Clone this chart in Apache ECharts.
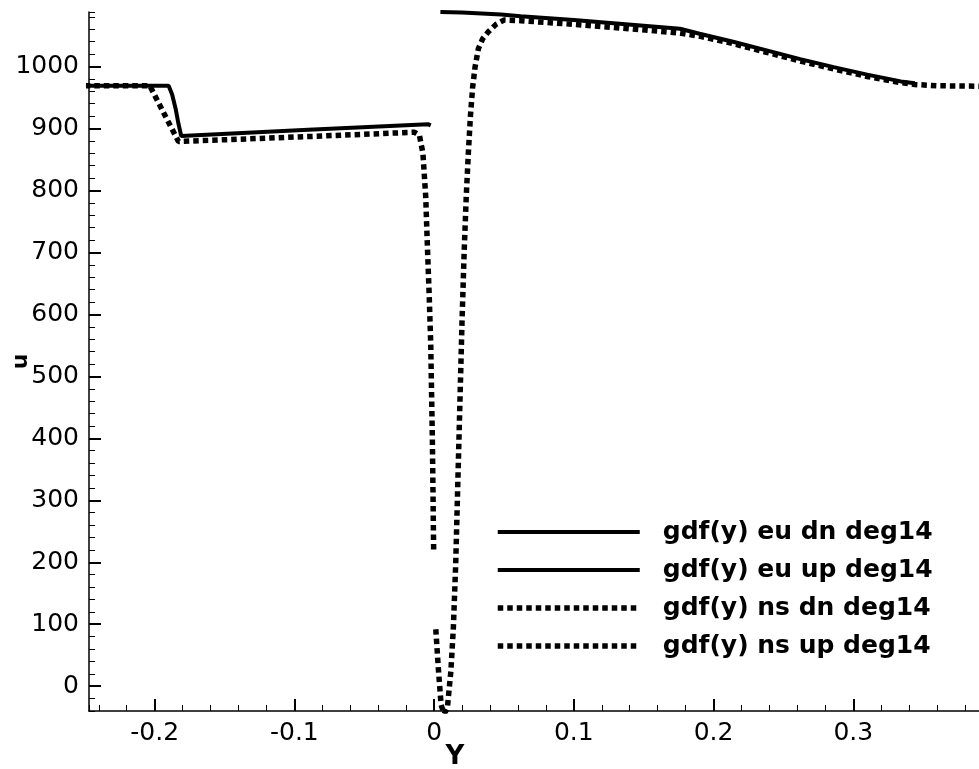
<!DOCTYPE html>
<html>
<head>
<meta charset="utf-8">
<script src="https://cdn.jsdelivr.net/npm/echarts@6/dist/echarts.min.js"></script>
<style>
html,body{margin:0;padding:0;background:#fff;}
#chart{width:979px;height:769px;}
</style>
</head>
<body>
<div id="chart"></div>
<script>
// ---- data ----
const seriesNames = ['gdf(y) eu dn deg14', 'gdf(y) eu up deg14', 'gdf(y) ns dn deg14', 'gdf(y) ns up deg14'];

const euDnY = [-0.25, -0.19, -0.1875, -0.185, -0.183, -0.181, -0.09, -0.0045, -0.0024];
const euDnU = [969, 969, 955, 932, 908, 888, 898, 907, 905];

const euUpY = [0.0045, 0.02, 0.048, 0.062, 0.1, 0.15, 0.176, 0.19, 0.214, 0.238, 0.262, 0.286, 0.31, 0.334, 0.344];
const euUpU = [1088, 1087, 1084, 1081, 1075, 1066, 1061, 1053, 1040, 1026, 1012, 999, 987, 976, 973];

const nsDnY = [-0.25, -0.2035, -0.183, -0.09, -0.014, -0.0105, -0.008, -0.006, -0.0048, -0.0035, -0.0024, -0.0012, -0.0003];
const nsDnU = [969, 969, 879, 887, 894, 889, 860, 790, 710, 630, 551, 392, 215];

const nsUpY = [0.0012, 0.003, 0.005, 0.0072, 0.0095, 0.012, 0.0138, 0.0155, 0.017, 0.0185, 0.02, 0.0215, 0.023, 0.0245, 0.026, 0.0276, 0.0293, 0.0317, 0.0348, 0.0388, 0.0443, 0.05, 0.062, 0.1, 0.14, 0.176, 0.19, 0.214, 0.238, 0.262, 0.286, 0.31, 0.334, 0.344, 0.36, 0.40];
const nsUpU = [92, 30, -30, -45, -35, 24, 95, 200, 330, 460, 590, 700, 790, 860, 920, 967, 999, 1029, 1045, 1056, 1068, 1075, 1074, 1068, 1061, 1054, 1049, 1037, 1023, 1009, 996, 984, 974, 971, 969, 968];

const xRange = [-0.247, 0.39];
const uRange = [-40, 1088];

// ---- chart ----
const FONT = 'DejaVu Sans';
function zip(a, b) { return a.map((v, i) => [v, b[i]]); }

const solidStyle = { color: '#000', width: 4, type: 'solid' };
const dotStyle = { color: '#000', width: 5.5, type: [5.5, 4], cap: 'butt' };
const hiddenSymbol = { color: 'rgba(0,0,0,0)', borderWidth: 0, opacity: 0 };

function lineSeries(name, xs, ys, style) {
  return {
    name: name, type: 'line', data: zip(xs, ys),
    xAxisIndex: 0, yAxisIndex: 0,
    symbol: 'none', showSymbol: false, smooth: false, clip: true,
    lineStyle: style, itemStyle: { color: '#000' },
    emphasis: { disabled: true }
  };
}

const chart = echarts.init(document.getElementById('chart'), null, { renderer: 'canvas' });
chart.setOption({
  animation: false,
  backgroundColor: '#fff',
  grid: { left: 89, right: 0, top: 12, bottom: 58, containLabel: false, outerBoundsMode: 'none' },
  legend: {
    orient: 'vertical', left: 495, top: 518, padding: 0,
    itemWidth: 142, itemHeight: 10, itemGap: 10,
    selectedMode: false,
    textStyle: { fontFamily: FONT, fontWeight: 'bold', fontSize: 25, color: '#000', lineHeight: 28, padding: [0, 0, 0, 18] },
    data: [
      { name: seriesNames[0], lineStyle: solidStyle, itemStyle: hiddenSymbol },
      { name: seriesNames[1], lineStyle: solidStyle, itemStyle: hiddenSymbol },
      { name: seriesNames[2], lineStyle: dotStyle, itemStyle: hiddenSymbol },
      { name: seriesNames[3], lineStyle: dotStyle, itemStyle: hiddenSymbol }
    ]
  },
  xAxis: [
    {
      type: 'value', position: 'bottom', min: xRange[0], max: xRange[1], splitNumber: 6,
      name: 'Y', nameLocation: 'middle', nameGap: 33, nameMoveOverlap: false,
      nameTextStyle: { fontFamily: FONT, fontWeight: 'bold', fontSize: 26, color: '#000', padding: [0, 158, 0, 0] },
      axisLine: { show: true, onZero: false, lineStyle: { color: '#000', width: 1.5 } },
      axisTick: { show: true, inside: true, length: 12, lineStyle: { color: '#000', width: 2 } },
      axisLabel: { show: true, margin: 10, showMinLabel: false, showMaxLabel: false,
        fontFamily: FONT, fontSize: 25, color: '#000',
        formatter: v => String(Math.round(v * 10) / 10) },
      splitLine: { show: false }
    },
    {
      type: 'value', position: 'bottom', min: xRange[0], max: xRange[1], splitNumber: 32,
      axisLine: { show: false, onZero: false },
      axisTick: { show: true, inside: true, length: 6, lineStyle: { color: '#000', width: 1 } },
      axisLabel: { show: false },
      splitLine: { show: false }
    }
  ],
  yAxis: [
    {
      type: 'value', position: 'left', min: uRange[0], max: uRange[1], splitNumber: 11,
      name: 'u', nameLocation: 'middle', nameGap: 57, nameMoveOverlap: false,
      nameTextStyle: { fontFamily: FONT, fontWeight: 'bold', fontSize: 22, color: '#000' },
      axisLine: { show: true, onZero: false, lineStyle: { color: '#000', width: 1.5 } },
      axisTick: { show: true, inside: true, length: 12, lineStyle: { color: '#000', width: 2 } },
      axisLabel: { show: true, margin: 10, showMinLabel: false, showMaxLabel: false,
        fontFamily: FONT, fontSize: 25, color: '#000',
        formatter: v => String(Math.round(v)) },
      splitLine: { show: false }
    },
    {
      type: 'value', position: 'left', min: uRange[0], max: uRange[1], interval: 20,
      axisLine: { show: false, onZero: false },
      axisTick: { show: true, inside: true, length: 6, lineStyle: { color: '#000', width: 1 } },
      axisLabel: { show: false },
      splitLine: { show: false }
    }
  ],
  series: [
    lineSeries(seriesNames[0], euDnY, euDnU, solidStyle),
    lineSeries(seriesNames[1], euUpY, euUpU, solidStyle),
    lineSeries(seriesNames[2], nsDnY, nsDnU, dotStyle),
    lineSeries(seriesNames[3], nsUpY, nsUpU, dotStyle)
  ]
});
</script>
</body>
</html>
